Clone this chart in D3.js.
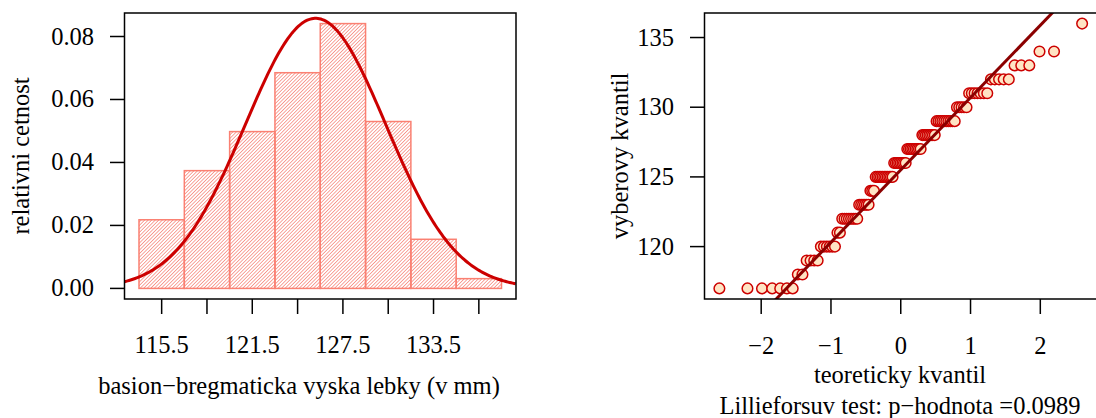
<!DOCTYPE html>
<html lang="en">
<head>
<meta charset="utf-8">
<script src="https://d3js.org/d3.v7.min.js"></script>
<style>
    body { margin: 0; background: #fff; }
    svg { display: block; font-family: "Liberation Serif", "Times New Roman", serif; }
</style>
</head>
<body>
<div id="chart"></div>
<script>
// histogram: bin edges (mm) and relative frequency density per bin
var binEdges = [114, 117, 120, 123, 126, 129, 132, 135, 138];
var binDensity = [0.0218, 0.0374, 0.0498, 0.0685, 0.0841, 0.0530, 0.0156, 0.0031];
var histTicks = [115.5, 118.5, 121.5, 124.5, 127.5, 130.5, 133.5, 136.5];
var histLabels = [115.5, 121.5, 127.5, 133.5];
var densTicks = [0, 0.02, 0.04, 0.06, 0.08];

// sample (integer mm values and how many times each occurs)
var sampleValues = [117, 118, 119, 120, 121, 122, 123, 124, 125, 126, 127, 128, 129, 130, 131, 132, 133, 134, 136];
var sampleCounts = [7, 2, 4, 6, 2, 8, 6, 3, 11, 8, 9, 8, 10, 5, 7, 5, 3, 2, 1];
var qqYTicks = [120, 125, 130, 135];
var qqXTicks = [-2, -1, 0, 1, 2];

var W = 1096, H = 418, fs = 24.5;

var svg = d3.select("#chart").append("svg")
    .attr("width", W).attr("height", H);

// hatch pattern for bars (45 degree lines)
svg.append("defs").append("pattern")
    .attr("id", "hatch")
    .attr("patternUnits", "userSpaceOnUse")
    .attr("width", 2.5).attr("height", 2.5)
    .attr("patternTransform", "rotate(45)")
    .append("line")
    .attr("x1", 0).attr("y1", 0).attr("x2", 0).attr("y2", 2.5)
    .attr("stroke", "#F67A6E").attr("stroke-width", 1.35);

// ---------- left panel: histogram ----------
var xL = d3.scaleLinear().domain([113.04, 138.96]).range([124.5, 516]);
var yL = d3.scaleLinear().domain([-0.003364, 0.087464]).range([299, 13]);

var bins = binDensity.map(function(d, i) {
    return { x0: binEdges[i], x1: binEdges[i + 1], d: d };
});

svg.append("g").selectAll("rect")
    .data(bins)
    .enter().append("rect")
    .attr("x", function(d) { return xL(d.x0); })
    .attr("width", function(d) { return xL(d.x1) - xL(d.x0); })
    .attr("y", function(d) { return yL(d.d); })
    .attr("height", function(d) { return yL(0) - yL(d.d); })
    .attr("fill", "url(#hatch)")
    .attr("stroke", "#FA8072")
    .attr("stroke-width", 1.5);

// normal density curve with sample mean and sd
var sample = [];
sampleValues.forEach(function(v, i) {
    for (var k = 0; k < sampleCounts[i]; k++) sample.push(v);
});
var mu = d3.mean(sample), sd = d3.deviation(sample);
var curveX = d3.range(113.04, 138.97, 0.1);
svg.append("path")
    .datum(curveX)
    .attr("fill", "none")
    .attr("stroke", "#CC0000")
    .attr("stroke-width", 3)
    .attr("d", d3.line()
        .x(function(d) { return xL(d); })
        .y(function(d) {
            var z = (d - mu) / sd;
            return yL(Math.exp(-z * z / 2) / (sd * Math.sqrt(2 * Math.PI)));
        }));

svg.append("rect")
    .attr("x", 124.5).attr("y", 13).attr("width", 516 - 124.5).attr("height", 286)
    .attr("fill", "none").attr("stroke", "#000").attr("stroke-width", 1.5);

// left y axis
var gyL = svg.append("g");
gyL.selectAll("line").data(densTicks).enter().append("line")
    .attr("x1", 110).attr("x2", 124.5)
    .attr("y1", function(d) { return yL(d); }).attr("y2", function(d) { return yL(d); })
    .attr("stroke", "#000").attr("stroke-width", 1.5);
gyL.selectAll("text").data(densTicks).enter().append("text")
    .attr("x", 94).attr("y", function(d) { return yL(d) + 8; })
    .attr("text-anchor", "end").style("font-size", fs + "px")
    .text(function(d) { return d3.format(".2f")(d); });

// left x axis
var gxL = svg.append("g");
gxL.selectAll("line").data(histTicks).enter().append("line")
    .attr("x1", function(d) { return xL(d); }).attr("x2", function(d) { return xL(d); })
    .attr("y1", 299).attr("y2", 314)
    .attr("stroke", "#000").attr("stroke-width", 1.5);
gxL.selectAll("text").data(histLabels).enter().append("text")
    .attr("x", function(d) { return xL(d); }).attr("y", 353)
    .attr("text-anchor", "middle").style("font-size", fs + "px")
    .text(function(d) { return d3.format(".1f")(d); });

svg.append("text")
    .attr("transform", "translate(29,156)rotate(-90)")
    .attr("text-anchor", "middle").style("font-size", fs + "px")
    .text("relativni cetnost");
svg.append("text")
    .attr("x", 299).attr("y", 394)
    .attr("text-anchor", "middle").style("font-size", fs + "px")
    .text("basion\u2212bregmaticka vyska lebky (v mm)");

// ---------- right panel: QQ plot ----------
function qnorm(p) {
    // Acklam's rational approximation
    var a = [-3.969683028665376e+01, 2.209460984245205e+02, -2.759285104469687e+02, 1.383577518672690e+02, -3.066479806614716e+01, 2.506628277459239e+00];
    var b = [-5.447609879822406e+01, 1.615858368580409e+02, -1.556989798598866e+02, 6.680131188771972e+01, -1.328068155288572e+01];
    var c = [-7.784894002430293e-03, -3.223964580411365e-01, -2.400758277161838e+00, -2.549671010352399e+00, 4.374664141464968e+00, 2.938163982698783e+00];
    var d = [7.784695709041462e-03, 3.224671290700398e-01, 2.445134137142996e+00, 3.754408661907416e+00];
    var pl = 0.02425, q, r;
    if (p < pl) {
        q = Math.sqrt(-2 * Math.log(p));
        return (((((c[0]*q+c[1])*q+c[2])*q+c[3])*q+c[4])*q+c[5]) / ((((d[0]*q+d[1])*q+d[2])*q+d[3])*q+1);
    } else if (p <= 1 - pl) {
        q = p - 0.5; r = q * q;
        return (((((a[0]*r+a[1])*r+a[2])*r+a[3])*r+a[4])*r+a[5])*q / (((((b[0]*r+b[1])*r+b[2])*r+b[3])*r+b[4])*r+1);
    } else {
        q = Math.sqrt(-2 * Math.log(1 - p));
        return -(((((c[0]*q+c[1])*q+c[2])*q+c[3])*q+c[4])*q+c[5]) / ((((d[0]*q+d[1])*q+d[2])*q+d[3])*q+1);
    }
}

var n = sample.length;
var qq = sample.map(function(v, i) { return { q: qnorm((i + 0.5) / n), v: v }; });

var xR = d3.scaleLinear().domain([-2.8125, 2.8125]).range([704.5, 1097]);
var yR = d3.scaleLinear().domain([116.24, 136.76]).range([299, 13]);

svg.append("defs").append("clipPath").attr("id", "clipR")
    .append("rect").attr("x", 704.5).attr("y", 13).attr("width", 392.5).attr("height", 286);

// qq line through quartiles
var q1 = d3.quantile(sample, 0.25), q3 = d3.quantile(sample, 0.75);
var slope = (q3 - q1) / (qnorm(0.75) - qnorm(0.25));
var icpt = q1 - slope * qnorm(0.25);
var lineQ = [-2.8125, 2.8125];

svg.append("g").selectAll("circle")
    .data(qq).enter().append("circle")
    .attr("cx", function(d) { return xR(d.q); })
    .attr("cy", function(d) { return yR(d.v); })
    .attr("r", 5.3)
    .attr("fill", "#FFE4C4")
    .attr("stroke", "#CC0000")
    .attr("stroke-width", 1.5);

svg.append("line")
    .attr("clip-path", "url(#clipR)")
    .attr("x1", xR(lineQ[0])).attr("y1", yR(icpt + slope * lineQ[0]))
    .attr("x2", xR(lineQ[1])).attr("y2", yR(icpt + slope * lineQ[1]))
    .attr("stroke", "#8B0000").attr("stroke-width", 3);

svg.append("rect")
    .attr("x", 704.5).attr("y", 13).attr("width", 392.5).attr("height", 286)
    .attr("fill", "none").attr("stroke", "#000").attr("stroke-width", 1.5);

var gyR = svg.append("g");
gyR.selectAll("line").data(qqYTicks).enter().append("line")
    .attr("x1", 690).attr("x2", 704.5)
    .attr("y1", function(d) { return yR(d); }).attr("y2", function(d) { return yR(d); })
    .attr("stroke", "#000").attr("stroke-width", 1.5);
gyR.selectAll("text").data(qqYTicks).enter().append("text")
    .attr("x", 674).attr("y", function(d) { return yR(d) + 8; })
    .attr("text-anchor", "end").style("font-size", fs + "px")
    .text(function(d) { return d; });

var gxR = svg.append("g");
gxR.selectAll("line").data(qqXTicks).enter().append("line")
    .attr("x1", function(d) { return xR(d); }).attr("x2", function(d) { return xR(d); })
    .attr("y1", 299).attr("y2", 314)
    .attr("stroke", "#000").attr("stroke-width", 1.5);
gxR.selectAll("text").data(qqXTicks).enter().append("text")
    .attr("x", function(d) { return xR(d); }).attr("y", 354)
    .attr("text-anchor", "middle").style("font-size", fs + "px")
    .text(function(d) { return d < 0 ? "\u2212" + Math.abs(d) : d; });

svg.append("text")
    .attr("transform", "translate(628,156)rotate(-90)")
    .attr("text-anchor", "middle").style("font-size", fs + "px")
    .text("vyberovy kvantil");
svg.append("text")
    .attr("x", 900).attr("y", 383)
    .attr("text-anchor", "middle").style("font-size", fs + "px")
    .text("teoreticky kvantil");
svg.append("text")
    .attr("x", 900).attr("y", 414)
    .attr("text-anchor", "middle").style("font-size", fs + "px")
    .text("Lillieforsuv test: p\u2212hodnota =0.0989");
</script>
</body>
</html>
